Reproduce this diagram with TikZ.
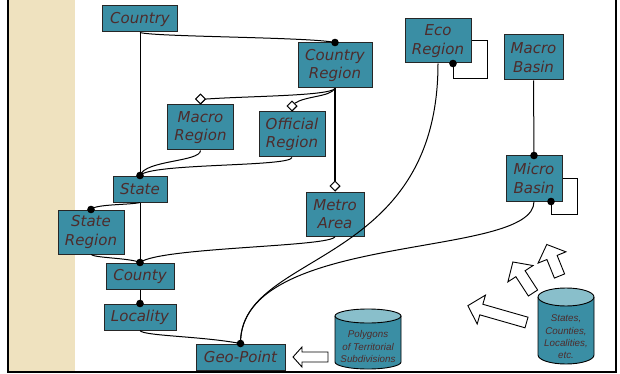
\documentclass[tikz,border=0pt]{standalone}
\usepackage{fontspec}
\setmainfont{DejaVu Sans}
\newfontfamily\cylfont{Liberation Sans}
\usetikzlibrary{calc,shapes.geometric}
\definecolor{boxteal}{HTML}{3A8EA4}
\definecolor{cyltop}{HTML}{89BFCB}
\definecolor{txtbrown}{HTML}{4D2C2C}
\definecolor{sidebar}{HTML}{EFE2BF}

% white block arrow: tail point (#1,#2), direction #3 degrees, length #4
\newcommand\blkarrow[4]{%
  \draw[blockarr, shift={(#1,#2)}, rotate=#3]
    (0,-5.5) -- (#4-14,-5.5) -- (#4-14,-15) -- (#4,0) -- (#4-14,15) -- (#4-14,5.5) -- (0,5.5) -- cycle;}

\tikzset{
  entity/.style={draw=black!85, line width=1pt, fill=boxteal, text=txtbrown,
    font=\fontsize{15}{18.5}\selectfont\itshape, align=center, inner sep=0pt},
  link/.style={line width=1pt},
  strong/.style={line width=1.9pt},
  dotmark/.style={fill=black},
  diamondmark/.style={diamond, draw, fill=white, line width=0.9pt,
    minimum size=10pt, inner sep=0pt, anchor=south},
  blockarr/.style={draw, fill=white, line width=0.9pt, line join=miter},
  dbtext/.style={text=txtbrown, font=\cylfont\fontsize{9.8}{12.3}\selectfont\itshape, align=center, inner sep=0pt},
}

\begin{document}
\begin{tikzpicture}[x=1pt, y=-1pt]
\useasboundingbox (0,0) rectangle (620,374);

% side band and frame
\fill[sidebar] (9,0) rectangle (75,371.5);
\draw[line width=2pt] (8,0) -- (8,372.3) -- (616.2,372.3) -- (616.2,0);

% entities
\node[entity, minimum width=75pt, minimum height=26pt] (Country)        at (140,19)    {Country};
\node[entity, minimum width=74pt, minimum height=45pt] (CountryRegion)  at (335,65.5)  {Country\\Region};
\node[entity, minimum width=66pt, minimum height=44pt] (EcoRegion)      at (438,41)    {Eco\\Region};
\node[entity, minimum width=59pt, minimum height=45pt] (MacroBasin)     at (533.5,57.5){Macro\\Basin};
\node[entity, minimum width=66pt, minimum height=45pt] (MacroRegion)    at (200.5,127.5){Macro\\Region};
\node[entity, minimum width=66pt, minimum height=45pt] (OfficialRegion) at (292,134.5) {Official\\Region};
\node[entity, minimum width=56pt, minimum height=45pt] (MicroBasin)     at (534,178.5) {Micro\\Basin};
\node[entity, minimum width=54pt, minimum height=26pt] (State)          at (140,189)   {State};
\node[entity, minimum width=66pt, minimum height=44pt] (StateRegion)    at (91,232)    {State\\Region};
\node[entity, minimum width=58pt, minimum height=44pt] (MetroArea)      at (335,214)   {Metro\\Area};
\node[entity, minimum width=68pt, minimum height=26pt] (County)         at (140,276)   {County};
\node[entity, minimum width=72pt, minimum height=26pt] (Locality)       at (140,317)   {Locality};
\node[entity, minimum width=89pt, minimum height=26pt] (GeoPoint)       at (240.5,357) {Geo-Point};

% aggregation diamonds (anchors for the lines)
\node[diamondmark] (dMacroRegion)    at (MacroRegion.north)    {};
\node[diamondmark] (dOfficialRegion) at (OfficialRegion.north) {};
\node[diamondmark] (dMetroArea)      at (MetroArea.north)      {};

% connectors
\draw[link] (Country.south) -- (State.north);
\draw[link] (Country.south) .. controls (155,37) and (310,37) .. (CountryRegion.north);
\draw[link] (CountryRegion.south) .. controls (329,96) and (250,96) .. (dMacroRegion.east);
\draw[link] (CountryRegion.south) .. controls (330,97) and (305,96) .. (dOfficialRegion.north east);
\draw[link] (MacroRegion.south) .. controls (200,162) and (145,160) .. (State.north);
\draw[link] (OfficialRegion.south) .. controls (290,167) and (150,163) .. (State.north);
\draw[link] (State.south) -- (County.north);
\draw[link] (State.south) .. controls (130,205) and (95,204) .. (StateRegion.north);
\draw[link] (StateRegion.south) .. controls (95,258) and (130,258) .. (County.north);
\draw[link] (MetroArea.south) .. controls (333,247) and (160,247) .. (County.north);
\draw[link] (County.south) -- (Locality.north);
\draw[link] (Locality.south) .. controls (143,336) and (200,336) .. (GeoPoint.north);
\draw[link] (EcoRegion.south) .. controls (438,270) and (240,250) .. (GeoPoint.north);
\draw[link] (MicroBasin.south) .. controls (534,260) and (240,230) .. (GeoPoint.north);
\draw[link] (MacroBasin.south) -- (MicroBasin.north);
\draw[link] (EcoRegion.east) -- ++(16,0) |- ($(EcoRegion.south)+(15,15)$) -- ($(EcoRegion.south)+(15,0)$) coordinate (ecoLoop);
\draw[link] (MicroBasin.east) -- ++(15,0) |- ($(MicroBasin.south)+(17,13)$) -- ($(MicroBasin.south)+(17,0)$) coordinate (microLoop);
\draw[strong] (CountryRegion.south) -- (dMetroArea.north);

% diamonds drawn again on top of their lines
\node[diamondmark] at (MacroRegion.north)    {};
\node[diamondmark] at (OfficialRegion.north) {};
\node[diamondmark] at (MetroArea.north)      {};

% connection dots
\foreach \p in {State.north, County.north, Locality.north, GeoPoint.north,
                CountryRegion.north, MicroBasin.north, StateRegion.north, ecoLoop, microLoop}
  \fill[dotmark] (\p) circle (3.8);

% data stores
\begin{scope}[shift={(368,339)}, x=1pt, y=1pt]
  \fill[boxteal] (-33,23) -- (-33,-23) arc[start angle=180, end angle=360, x radius=33, y radius=7] -- (33,23) -- cycle;
  \filldraw[fill=cyltop, line width=0.9pt] (0,23) ellipse[x radius=33, y radius=7];
  \draw[line width=0.9pt] (-33,23) -- (-33,-23) arc[start angle=180, end angle=360, x radius=33, y radius=7] -- (33,23);
\end{scope}
\node[dbtext] (Polygons) at (368,346.5) {Polygons\\of Territorial\\Subdivisions};

\begin{scope}[shift={(566,326)}, x=1pt, y=1pt]
  \fill[boxteal] (-28,29) -- (-28,-29) arc[start angle=180, end angle=360, x radius=28, y radius=9] -- (28,29) -- cycle;
  \filldraw[fill=cyltop, line width=0.9pt] (0,29) ellipse[x radius=28, y radius=9];
  \draw[line width=0.9pt] (-28,29) -- (-28,-29) arc[start angle=180, end angle=360, x radius=28, y radius=9] -- (28,29);
\end{scope}
\node[dbtext] (Sources) at (566,337) {States,\\Counties,\\Localities,\\etc.};

% block arrows
\draw[blockarr] (328,352) -- (302,352) -- (302,347) -- (293,357) -- (302,367) -- (302,362) -- (328,362) -- cycle;
\blkarrow{526.5}{322.5}{164}{61}
\blkarrow{533}{293}{123}{37}
\blkarrow{559.5}{276}{112}{34}

\end{tikzpicture}
\end{document}
